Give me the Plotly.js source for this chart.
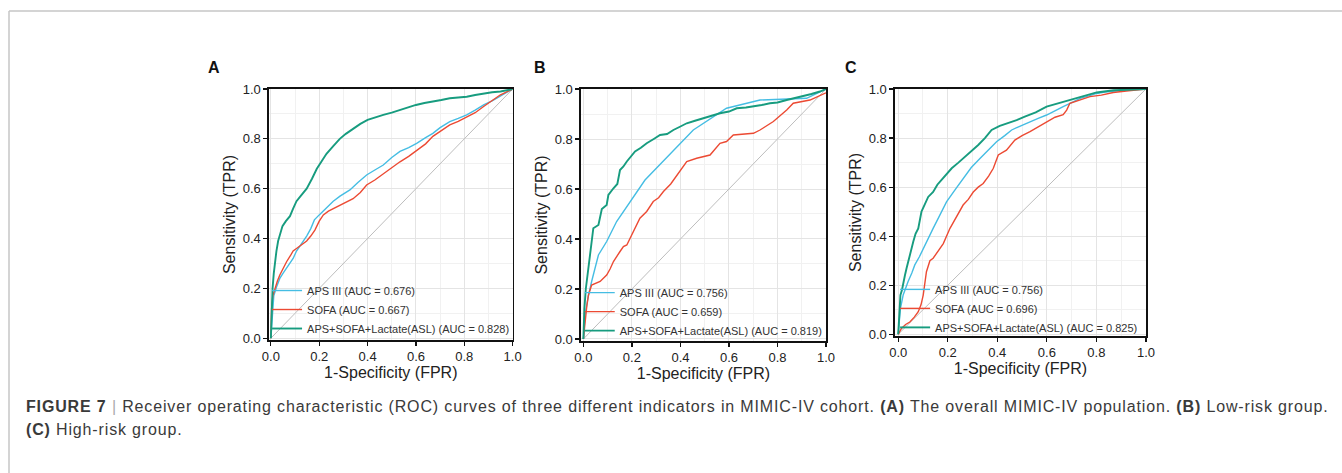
<!DOCTYPE html>
<html>
<head>
<meta charset="utf-8">
<script src="https://cdn.plot.ly/plotly-3.0.1.min.js"></script>
<style>
  html, body { margin: 0; padding: 0; background: #ffffff; }
  #chart { width: 1342px; height: 473px; }
</style>
</head>
<body>
<div id="chart"></div>
<script>
// ---------- data ----------
var panelLabels = ['A', 'B', 'C'];
var seriesNames = ['APS III', 'SOFA', 'APS+SOFA+Lactate(ASL)'];
var aucA = ['0.676', '0.667', '0.828'];
var aucB = ['0.756', '0.659', '0.819'];
var aucC = ['0.756', '0.696', '0.825'];
var tickVals = [0, 0.2, 0.4, 0.6, 0.8, 1.0];
var tickText = ['0.0', '0.2', '0.4', '0.6', '0.8', '1.0'];
var diagX = [0, 1];
var diagY = [0, 1];

// Panel A: overall population
var aApsFpr = [0, 0.006, 0.012, 0.025, 0.037, 0.05, 0.065, 0.08, 0.092, 0.106, 0.12, 0.134, 0.148, 0.165, 0.18, 0.2, 0.217, 0.238, 0.258, 0.286, 0.327, 0.36, 0.396, 0.43, 0.465, 0.5, 0.534, 0.57, 0.603, 0.64, 0.67, 0.7, 0.74, 0.775, 0.81, 0.845, 0.88, 0.915, 0.948, 1];
var aApsTpr = [0, 0.1, 0.17, 0.21, 0.24, 0.26, 0.28, 0.3, 0.32, 0.35, 0.37, 0.39, 0.41, 0.44, 0.475, 0.495, 0.51, 0.53, 0.55, 0.57, 0.595, 0.625, 0.655, 0.675, 0.695, 0.725, 0.75, 0.765, 0.782, 0.805, 0.822, 0.845, 0.869, 0.882, 0.896, 0.915, 0.936, 0.952, 0.97, 1];
var aSofaFpr = [0, 0.003, 0.008, 0.017, 0.027, 0.037, 0.05, 0.065, 0.08, 0.092, 0.106, 0.12, 0.134, 0.148, 0.165, 0.182, 0.2, 0.217, 0.238, 0.258, 0.28, 0.299, 0.32, 0.34, 0.37, 0.396, 0.43, 0.465, 0.5, 0.534, 0.57, 0.603, 0.64, 0.67, 0.7, 0.74, 0.775, 0.81, 0.845, 0.88, 0.915, 0.948, 1];
var aSofaTpr = [0, 0.12, 0.17, 0.2, 0.23, 0.254, 0.28, 0.307, 0.33, 0.35, 0.36, 0.37, 0.38, 0.39, 0.41, 0.434, 0.47, 0.495, 0.51, 0.52, 0.53, 0.54, 0.55, 0.56, 0.585, 0.615, 0.635, 0.66, 0.685, 0.708, 0.73, 0.755, 0.78, 0.81, 0.83, 0.856, 0.87, 0.889, 0.905, 0.93, 0.955, 0.976, 1];
var aAslFpr = [0, 0.003, 0.007, 0.012, 0.017, 0.023, 0.03, 0.038, 0.048, 0.062, 0.079, 0.092, 0.106, 0.127, 0.148, 0.17, 0.19, 0.21, 0.23, 0.257, 0.285, 0.31, 0.34, 0.37, 0.40, 0.43, 0.465, 0.5, 0.534, 0.565, 0.60, 0.635, 0.67, 0.705, 0.74, 0.775, 0.81, 0.845, 0.88, 0.915, 0.95, 1];
var aAslTpr = [0, 0.1, 0.2, 0.26, 0.31, 0.35, 0.39, 0.42, 0.45, 0.47, 0.49, 0.52, 0.55, 0.575, 0.60, 0.64, 0.68, 0.71, 0.74, 0.77, 0.80, 0.82, 0.84, 0.86, 0.876, 0.886, 0.896, 0.905, 0.916, 0.925, 0.936, 0.944, 0.949, 0.956, 0.963, 0.966, 0.969, 0.976, 0.983, 0.987, 0.99, 1];

// Panel B: low-risk group
var bApsFpr = [0, 0.007, 0.02, 0.034, 0.062, 0.096, 0.137, 0.254, 0.453, 0.59, 0.728, 0.92, 1];
var bApsTpr = [0, 0.096, 0.17, 0.23, 0.336, 0.39, 0.47, 0.636, 0.836, 0.923, 0.956, 0.963, 1];
var bSofaFpr = [0, 0.007, 0.014, 0.021, 0.034, 0.069, 0.096, 0.11, 0.124, 0.151, 0.165, 0.179, 0.213, 0.233, 0.261, 0.288, 0.310, 0.330, 0.36, 0.385, 0.426, 0.467, 0.522, 0.563, 0.59, 0.618, 0.701, 0.728, 0.783, 0.838, 0.865, 0.934, 1];
var bSofaTpr = [0, 0.07, 0.13, 0.176, 0.216, 0.23, 0.256, 0.28, 0.31, 0.35, 0.37, 0.376, 0.443, 0.483, 0.51, 0.55, 0.565, 0.59, 0.62, 0.656, 0.71, 0.723, 0.736, 0.783, 0.79, 0.816, 0.823, 0.836, 0.87, 0.916, 0.943, 0.956, 0.985];
var bAslFpr = [0, 0.004, 0.01, 0.014, 0.027, 0.035, 0.041, 0.062, 0.07, 0.076, 0.096, 0.103, 0.124, 0.14, 0.151, 0.165, 0.179, 0.195, 0.213, 0.237, 0.261, 0.29, 0.316, 0.345, 0.371, 0.4, 0.426, 0.46, 0.495, 0.53, 0.563, 0.6, 0.632, 0.67, 0.701, 0.735, 0.769, 0.8, 0.838, 0.87, 0.907, 0.94, 0.975, 1];
var bAslTpr = [0, 0.12, 0.2, 0.23, 0.336, 0.41, 0.443, 0.456, 0.5, 0.52, 0.536, 0.576, 0.603, 0.62, 0.676, 0.69, 0.71, 0.73, 0.75, 0.765, 0.783, 0.8, 0.816, 0.82, 0.836, 0.85, 0.863, 0.873, 0.883, 0.893, 0.903, 0.91, 0.923, 0.926, 0.93, 0.936, 0.943, 0.946, 0.956, 0.963, 0.97, 0.98, 0.99, 1];

// Panel C: high-risk group
var cApsFpr = [0, 0.005, 0.009, 0.02, 0.03, 0.04, 0.055, 0.067, 0.085, 0.101, 0.12, 0.141, 0.165, 0.195, 0.23, 0.262, 0.295, 0.33, 0.365, 0.397, 0.43, 0.458, 0.495, 0.532, 0.565, 0.599, 0.633, 0.666, 0.7, 0.734, 0.77, 0.801, 0.835, 0.868, 0.93, 1];
var cApsTpr = [0, 0.06, 0.106, 0.16, 0.19, 0.215, 0.25, 0.283, 0.315, 0.35, 0.39, 0.432, 0.48, 0.54, 0.59, 0.636, 0.68, 0.717, 0.752, 0.785, 0.81, 0.833, 0.85, 0.867, 0.88, 0.894, 0.91, 0.928, 0.945, 0.962, 0.972, 0.982, 0.988, 0.992, 0.997, 1];
var cSofaFpr = [0, 0.013, 0.03, 0.047, 0.065, 0.081, 0.092, 0.101, 0.114, 0.128, 0.141, 0.155, 0.182, 0.209, 0.236, 0.262, 0.283, 0.303, 0.323, 0.343, 0.365, 0.384, 0.404, 0.437, 0.471, 0.5, 0.532, 0.565, 0.599, 0.633, 0.666, 0.68, 0.693, 0.734, 0.774, 0.82, 0.868, 0.93, 1];
var cSofaTpr = [0, 0.024, 0.04, 0.05, 0.07, 0.092, 0.12, 0.16, 0.255, 0.30, 0.31, 0.33, 0.37, 0.432, 0.48, 0.527, 0.55, 0.58, 0.6, 0.615, 0.645, 0.677, 0.731, 0.751, 0.792, 0.81, 0.826, 0.845, 0.867, 0.885, 0.895, 0.914, 0.942, 0.955, 0.969, 0.975, 0.986, 0.993, 1];
var cAslFpr = [0, 0.003, 0.004, 0.009, 0.015, 0.02, 0.027, 0.034, 0.041, 0.047, 0.054, 0.061, 0.07, 0.081, 0.094, 0.108, 0.121, 0.141, 0.158, 0.175, 0.195, 0.216, 0.243, 0.27, 0.297, 0.323, 0.35, 0.377, 0.41, 0.444, 0.478, 0.511, 0.555, 0.599, 0.633, 0.666, 0.7, 0.733, 0.77, 0.801, 0.87, 1];
var cAslTpr = [0, 0.05, 0.08, 0.16, 0.18, 0.2, 0.24, 0.27, 0.3, 0.323, 0.35, 0.378, 0.41, 0.432, 0.5, 0.53, 0.56, 0.58, 0.61, 0.63, 0.655, 0.677, 0.7, 0.724, 0.75, 0.772, 0.8, 0.833, 0.85, 0.86, 0.873, 0.887, 0.905, 0.928, 0.938, 0.948, 0.958, 0.969, 0.979, 0.986, 0.995, 1];

// ---------- styles ----------
var colAps = '#45bde3';
var colSofa = '#ec4a33';
var colAsl = '#179c7f';
var colDiag = '#bdbdbd';
var FONT = 'Liberation Sans, Arial, sans-serif';

function curve(x, y, name, color, width, xa, ya, lg) {
  return {
    type: 'scatter', mode: 'lines', x: x, y: y, name: name,
    line: {color: color, width: width},
    xaxis: xa, yaxis: ya, legend: lg, hoverinfo: 'x+y+name'
  };
}
function diag(xa, ya) {
  return {type: 'scatter', mode: 'lines', x: diagX, y: diagY, showlegend: false,
    line: {color: colDiag, width: 1}, xaxis: xa, yaxis: ya, hoverinfo: 'skip'};
}
function lab(name, auc) { return name + ' (AUC = ' + auc + ')'; }

var traces = [
  diag('x', 'y'),
  curve(aApsFpr, aApsTpr, lab(seriesNames[0], aucA[0]), colAps, 1.4, 'x', 'y', 'legend'),
  curve(aSofaFpr, aSofaTpr, lab(seriesNames[1], aucA[1]), colSofa, 1.4, 'x', 'y', 'legend'),
  curve(aAslFpr, aAslTpr, lab(seriesNames[2], aucA[2]), colAsl, 1.9, 'x', 'y', 'legend'),
  diag('x2', 'y2'),
  curve(bApsFpr, bApsTpr, lab(seriesNames[0], aucB[0]), colAps, 1.4, 'x2', 'y2', 'legend2'),
  curve(bSofaFpr, bSofaTpr, lab(seriesNames[1], aucB[1]), colSofa, 1.4, 'x2', 'y2', 'legend2'),
  curve(bAslFpr, bAslTpr, lab(seriesNames[2], aucB[2]), colAsl, 1.9, 'x2', 'y2', 'legend2'),
  diag('x3', 'y3'),
  curve(cApsFpr, cApsTpr, lab(seriesNames[0], aucC[0]), colAps, 1.4, 'x3', 'y3', 'legend3'),
  curve(cSofaFpr, cSofaTpr, lab(seriesNames[1], aucC[1]), colSofa, 1.4, 'x3', 'y3', 'legend3'),
  curve(cAslFpr, cAslTpr, lab(seriesNames[2], aucC[2]), colAsl, 1.9, 'x3', 'y3', 'legend3')
];

function xAxis(domain, range, anchor) {
  return {
    domain: domain, range: range, anchor: anchor,
    tickvals: tickVals, ticktext: tickText,
    showgrid: true, gridcolor: '#e4e4e4', gridwidth: 1,
    minor: {dtick: 0.1, tick0: 0, showgrid: true, gridcolor: '#f1f1f1', gridwidth: 1, ticks: ''},
    zeroline: false, showline: true, linecolor: '#111', linewidth: 1.6, mirror: true,
    ticks: 'outside', ticklen: 4, tickcolor: '#111', tickwidth: 1.2,
    tickfont: {family: FONT, size: 13, color: '#222'},
    title: {text: '1-Specificity (FPR)', font: {family: FONT, size: 16, color: '#222'}, standoff: 3},
    fixedrange: true
  };
}
function yAxis(domain, range, anchor) {
  var a = xAxis(domain, range, anchor);
  a.title = {text: 'Sensitivity (TPR)', font: {family: FONT, size: 16, color: '#222'}, standoff: 3};
  return a;
}
function legendAt(x, y) {
  return {x: x, y: y, xanchor: 'left', yanchor: 'bottom', xref: 'paper', yref: 'paper',
    bgcolor: 'rgba(0,0,0,0)', borderwidth: 0, tracegroupgap: 0, itemwidth: 30,
    font: {family: FONT, size: 11, color: '#333'}};
}

var capStyle = 'letter-spacing:0.85px';
var layout = {
  width: 1342, height: 473,
  margin: {l: 0, r: 0, t: 0, b: 0},
  paper_bgcolor: '#ffffff', plot_bgcolor: '#ffffff',
  showlegend: true,
  xaxis: xAxis([0.2004, 0.3820], [-0.008, 1.0], 'y'),
  yaxis: yAxis([0.2812, 0.8118], [-0.007, 1.0], 'x'),
  xaxis2: xAxis([0.4329, 0.6155], [-0.01, 1.0], 'y2'),
  yaxis2: yAxis([0.2791, 0.8118], [-0.008, 1.0], 'x2'),
  xaxis3: xAxis([0.6669, 0.8539], [-0.013, 1.0], 'y3'),
  yaxis3: yAxis([0.2896, 0.8118], [-0.007, 1.0], 'x3'),
  legend: legendAt(0.199, 0.2748),
  legend2: legendAt(0.432, 0.2704),
  legend3: legendAt(0.667, 0.2772),
  shapes: [
    {type: 'line', xref: 'paper', yref: 'paper', x0: 9 / 1342, x1: 1, y0: 1 - 11 / 473, y1: 1 - 11 / 473,
     line: {color: '#c6c6c6', width: 1.5}},
    {type: 'line', xref: 'paper', yref: 'paper', x0: 9 / 1342, x1: 9 / 1342, y0: 0, y1: 1 - 11 / 473,
     line: {color: '#c6c6c6', width: 1.5}}
  ],
  annotations: [
    {text: '<b>' + panelLabels[0] + '</b>', xref: 'paper', yref: 'paper', x: 214 / 1342, y: 1 - 67 / 473,
     xanchor: 'center', yanchor: 'middle', showarrow: false, font: {family: FONT, size: 16, color: '#111'}},
    {text: '<b>' + panelLabels[1] + '</b>', xref: 'paper', yref: 'paper', x: 540 / 1342, y: 1 - 67 / 473,
     xanchor: 'center', yanchor: 'middle', showarrow: false, font: {family: FONT, size: 16, color: '#111'}},
    {text: '<b>' + panelLabels[2] + '</b>', xref: 'paper', yref: 'paper', x: 851 / 1342, y: 1 - 67 / 473,
     xanchor: 'center', yanchor: 'middle', showarrow: false, font: {family: FONT, size: 16, color: '#111'}},
    {text: '<span style="' + capStyle + '"><b>FIGURE 7</b> <span style="color:#aaaaaa">|</span> Receiver operating characteristic (ROC) curves of three different indicators in MIMIC-IV cohort. <b>(A)</b> The overall MIMIC-IV population. <b>(B)</b> Low-risk group.</span>',
     xref: 'paper', yref: 'paper', x: 24 / 1342, y: 1 - 406 / 473, xanchor: 'left', yanchor: 'middle',
     showarrow: false, font: {family: FONT, size: 16, color: '#3a3a3a'}},
    {text: '<span style="' + capStyle + '"><b>(C)</b> High-risk group.</span>',
     xref: 'paper', yref: 'paper', x: 24 / 1342, y: 1 - 429 / 473, xanchor: 'left', yanchor: 'middle',
     showarrow: false, font: {family: FONT, size: 16, color: '#3a3a3a'}}
  ]
};

Plotly.newPlot('chart', traces, layout, {displayModeBar: false, staticPlot: true});
</script>
</body>
</html>
